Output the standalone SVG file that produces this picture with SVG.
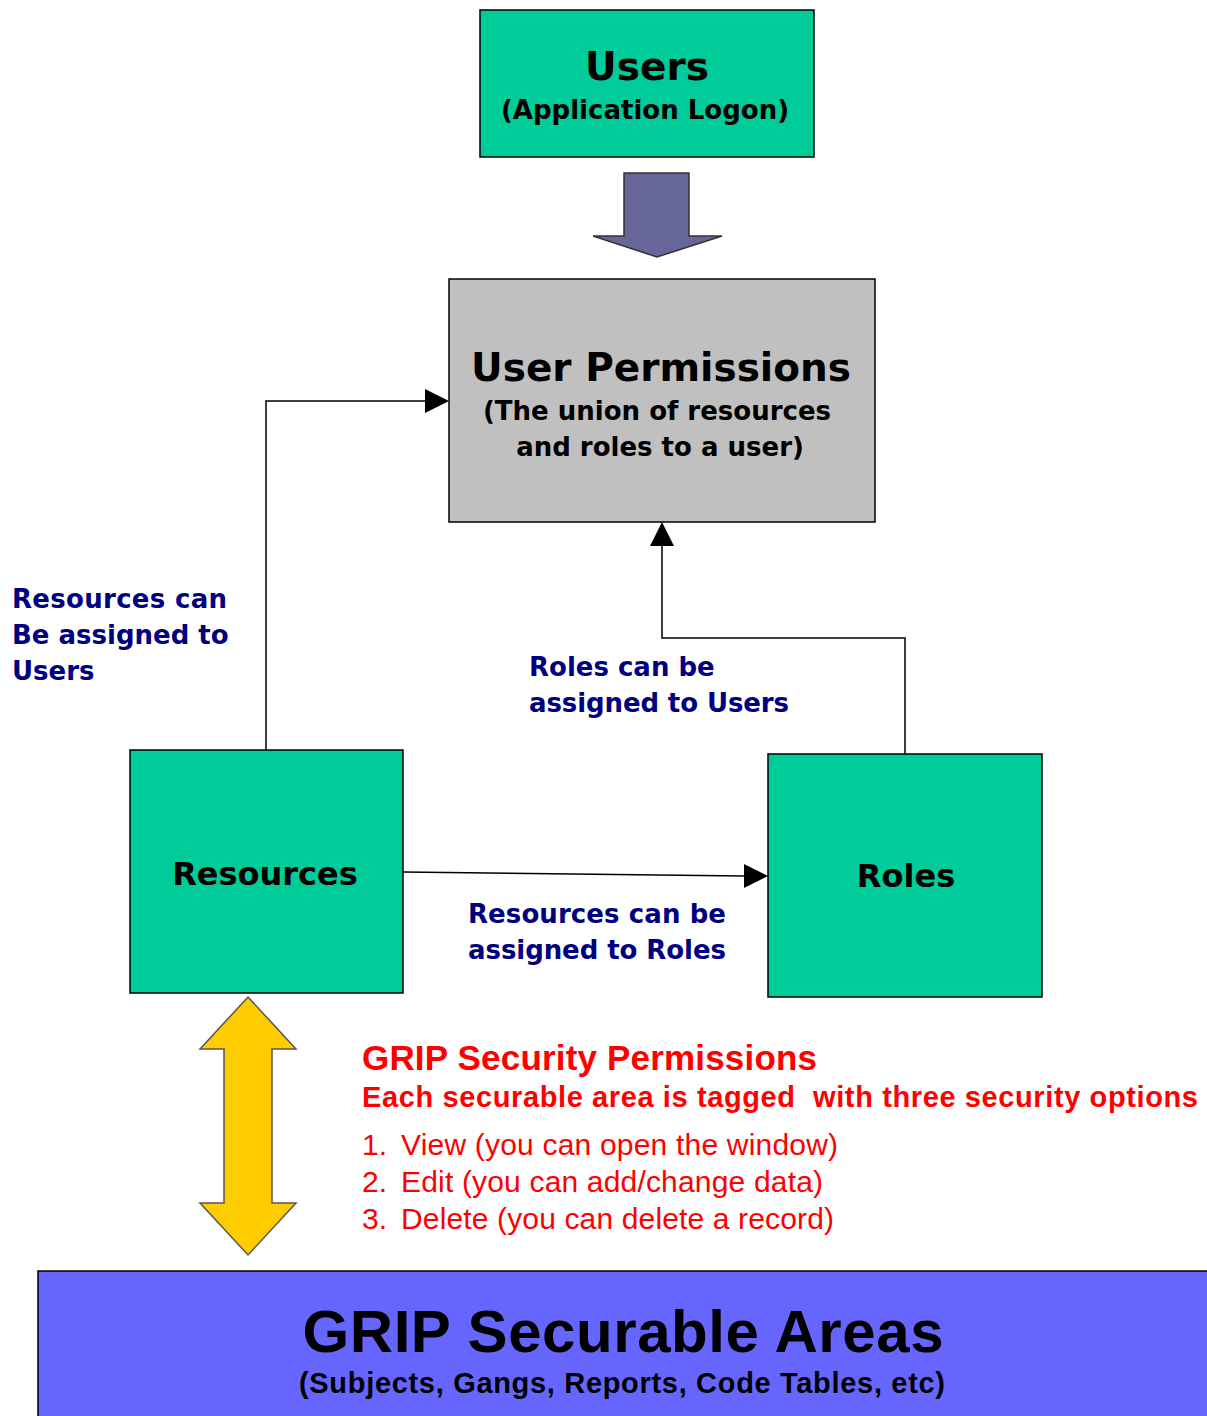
<svg xmlns="http://www.w3.org/2000/svg" width="1207" height="1416" viewBox="0 0 1207 1416">
<style>
.box{stroke:#000;stroke-width:1.5}
.v{font-family:"DejaVu Sans",Verdana,sans-serif;font-weight:bold;fill:#000}
.lbl{font-family:"DejaVu Sans",Verdana,sans-serif;font-weight:bold;fill:#000080;font-size:26px}
.red{font-family:"Liberation Sans",Arial,sans-serif;fill:#FF0000}
.conn{fill:none;stroke:#000;stroke-width:1.5}
</style>
<rect width="1207" height="1416" fill="#fff"/>
<g id="connectors">
<polyline class="conn" points="266,750 266,401 425,401"/>
<polygon points="425,389 449,401 425,413" fill="#000"/>
<polyline class="conn" points="905,754 905,638 662,638 662,546"/>
<polygon points="650,546 662,522 674,546" fill="#000"/>
<line class="conn" x1="403" y1="872" x2="744" y2="876"/>
<polygon points="744,864 768,876 744,888" fill="#000"/>
</g>
<g id="users">
<rect class="box" x="480" y="10" width="334" height="147" fill="#00CC99"/>
<text class="v" x="647" y="80" font-size="39" text-anchor="middle">Users</text>
<text class="v" x="645" y="119" font-size="26" text-anchor="middle">(Application Logon)</text>
</g>
<g id="down-arrow">
<polygon points="624,173 689,173 689,236 722,236 657,257 593,236 624,236" fill="#666699" stroke="#333" stroke-width="1.5"/>
</g>
<g id="user-permissions">
<rect class="box" x="449" y="279" width="426" height="243" fill="#C0C0C0"/>
<text class="v" x="661" y="381" font-size="39" text-anchor="middle">User Permissions</text>
<text class="v" x="657" y="420" font-size="26" text-anchor="middle">(The union of resources</text>
<text class="v" x="660" y="456" font-size="26" text-anchor="middle">and roles to a user)</text>
</g>
<g id="resources">
<rect class="box" x="130" y="750" width="273" height="243" fill="#00CC99"/>
<text class="v" x="265" y="885" font-size="32" text-anchor="middle">Resources</text>
</g>
<g id="roles">
<rect class="box" x="768" y="754" width="274" height="243" fill="#00CC99"/>
<text class="v" x="906" y="887" font-size="32" text-anchor="middle">Roles</text>
</g>
<g id="labels">
<text class="lbl" x="12" y="608" textLength="215">Resources can</text>
<text class="lbl" x="12" y="644">Be assigned to</text>
<text class="lbl" x="12" y="680">Users</text>
<text class="lbl" x="529" y="676">Roles can be</text>
<text class="lbl" x="529" y="712" textLength="260">assigned to Users</text>
<text class="lbl" x="468" y="923" textLength="258">Resources can be</text>
<text class="lbl" x="468" y="959" textLength="258">assigned to Roles</text>
</g>
<g id="double-arrow">
<polygon points="248,997 296,1049 272,1049 272,1203 296,1203 248,1255 200,1203 224,1203 224,1049 200,1049" fill="#FFCC00" stroke="#555" stroke-width="1.5"/>
</g>
<g id="permissions-text">
<text class="red" x="362" y="1070" font-size="35" font-weight="bold" textLength="455">GRIP Security Permissions</text>
<text class="red" x="362" y="1107" font-size="29" font-weight="bold" xml:space="preserve" textLength="836">Each securable area is tagged  with three security options</text>
<text class="red" x="362" y="1155" font-size="30">1.</text>
<text class="red" x="401" y="1155" font-size="30" textLength="437">View (you can open the window)</text>
<text class="red" x="362" y="1192" font-size="30">2.</text>
<text class="red" x="401" y="1192" font-size="30" textLength="422">Edit (you can add/change data)</text>
<text class="red" x="362" y="1229" font-size="30">3.</text>
<text class="red" x="401" y="1229" font-size="30" textLength="433">Delete (you can delete a record)</text>
</g>
<g id="securable-areas">
<rect class="box" x="38" y="1271" width="1180" height="160" fill="#6666FF"/>
<text x="623" y="1352" font-family="'Liberation Sans',Arial,sans-serif" font-weight="bold" font-size="60" text-anchor="middle" textLength="641">GRIP Securable Areas</text>
<text x="622" y="1393" font-family="'Liberation Sans',Arial,sans-serif" font-weight="bold" font-size="29" text-anchor="middle" textLength="646">(Subjects, Gangs, Reports, Code Tables, etc)</text>
</g>
</svg>
